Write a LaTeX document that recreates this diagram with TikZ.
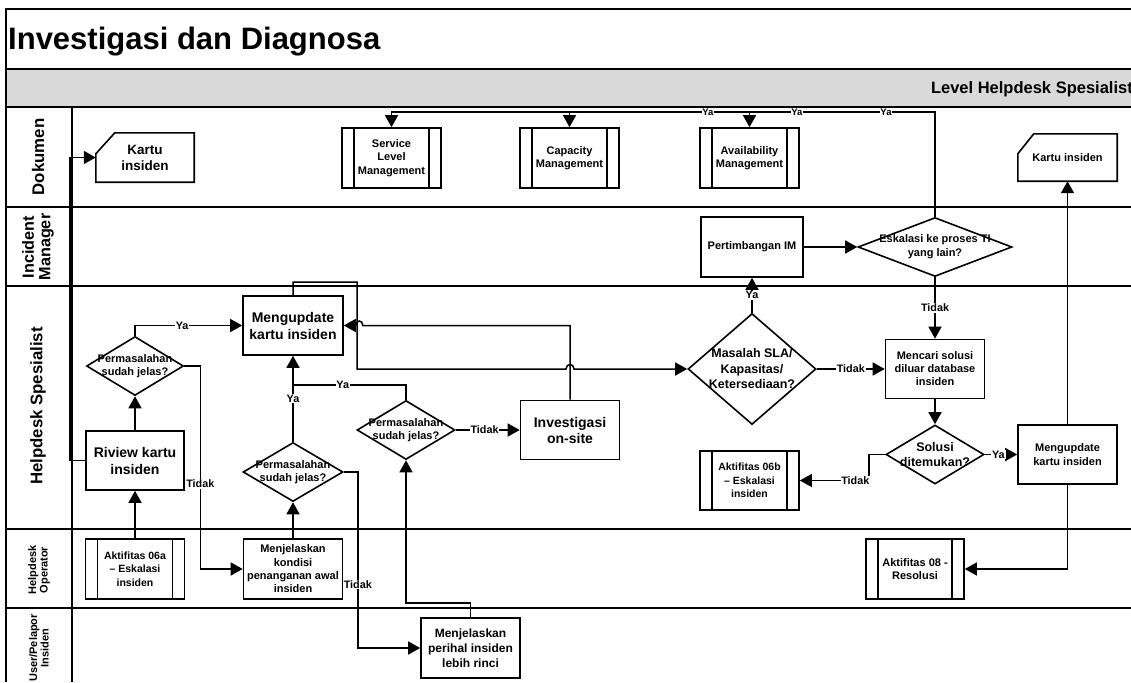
\documentclass[tikz,border=0pt]{standalone}
\usepackage{fontspec}
\setmainfont{Liberation Sans}
\usetikzlibrary{arrows.meta,shapes.geometric,calc}
\newcommand\myfs[2]{\fontsize{#1}{#2}\selectfont\bfseries}
\tikzset{
  laneline/.style={line width=2.2pt},
  box/.style={draw, line width=1.6pt, fill=white, inner sep=1pt, align=center,
    minimum width=99pt, minimum height=59pt, font=\myfs{11}{13.5}},
  predef/.style={box, path picture={
    \draw[line width=1.6pt]
      ([xshift=12pt]path picture bounding box.north west) -- ([xshift=12pt]path picture bounding box.south west)
      ([xshift=-12pt]path picture bounding box.north east) -- ([xshift=-12pt]path picture bounding box.south east);}},
  card/.style={inner sep=0pt, align=center},
  cardline/.style={line width=1.6pt},
  dec/.style={diamond, draw, line width=1.6pt, fill=white, inner sep=0pt,
    minimum width=98pt, minimum height=59pt},
  dtxt/.style={align=center, inner sep=0pt},
  conn/.style={line width=1.5pt, -{Triangle[length=12pt,width=13pt]}},
  link/.style={line width=1.5pt},
  lbl/.style={fill=white, inner sep=0.8pt, font=\myfs{10.8}{12}},
  toplbl/.style={fill=white, inner sep=0.6pt, font=\myfs{9.5}{10}},
  lanetxt/.style={rotate=90, align=center, inner sep=0pt},
}
\begin{document}
\begin{tikzpicture}[x=1pt,y=-1pt]
\useasboundingbox (0,0) rectangle (1131,682);

% ---- swimlane frame ----
\fill[black!15] (6,69) rectangle (1135,107);
\draw[laneline] (6,682) -- (6,9) -- (1135,9);
\foreach \yy in {69,107,207,286,529,608} \draw[laneline] (6,\yy) -- (1135,\yy);
\draw[laneline] (72,107) -- (72,682);

\node[anchor=base west, inner sep=0pt, font=\myfs{31}{36}] (title) at (8,50) {Investigasi dan Diagnosa};
\node[anchor=base east, inner sep=0pt, font=\myfs{16.5}{19}] (level) at (1133,94) {Level Helpdesk Spesialist};

% ---- lane names ----
\node[lanetxt, font=\myfs{16.8}{18}] (ln1) at (38,157) {Dokumen};
\node[lanetxt, font=\myfs{16.2}{16.5}] (ln2) at (38,247) {Incident\\Manager};
\node[lanetxt, font=\myfs{16.8}{18}] (ln3) at (38,406) {Helpdesk Spesialist};
\node[lanetxt, font=\myfs{11}{11.5}] (ln4) at (39,570) {Helpdesk\\Operator};
\node[lanetxt, font=\myfs{11}{11.5}] (ln5) at (39,648) {User/Pelapor\\Insiden};

% ---- Dokumen lane ----
\node[card, minimum width=98pt, minimum height=49pt, font=\myfs{13.5}{16}] (kartuA) at (145,157.5) {Kartu\\insiden};
\draw[cardline] ($(kartuA.north west)+(0,21)$) -- ($(kartuA.north west)+(19,0)$) -- (kartuA.north east) -- (kartuA.south east) -- (kartuA.south west) -- cycle;
\node[predef, minimum height=60pt] (slm) at (391.5,158) {Service\\Level\\Management};
\node[predef, minimum height=60pt] (cap) at (569.5,158) {Capacity\\Management};
\node[predef, minimum height=60pt] (avail) at (749.5,158) {Availability\\Management};
\node[card, minimum width=99pt, minimum height=47pt, font=\myfs{11}{13}] (kartuB) at (1067.5,157.5) {Kartu insiden};
\draw[cardline] ($(kartuB.north west)+(0,20)$) -- ($(kartuB.north west)+(16,0)$) -- (kartuB.north east) -- (kartuB.south east) -- (kartuB.south west) -- cycle;

% ---- Incident Manager lane ----
\node[box, minimum width=102pt, minimum height=60pt] (pim) at (752,247) {Pertimbangan IM};
\node[dec, minimum width=154pt] (esk) at (935,247) {};
\node[dtxt, font=\myfs{11}{14}] at (esk) {Eskalasi ke proses TI\\yang lain?};

% ---- Helpdesk Spesialist lane ----
\node[box, minimum width=100pt, font=\myfs{14}{17}] (upd1) at (293,325.5) {Mengupdate\\kartu insiden};
\node[dec, minimum width=97pt] (dq1) at (135,366) {};
\node[dtxt, font=\myfs{11}{13.5}] at (dq1) {Permasalahan\\sudah jelas?};
\node[box, minimum width=98pt, font=\myfs{14}{17}] (rev) at (135,460.5) {Riview kartu\\insiden};
\node[dec, minimum width=100pt] (dq2) at (293,472) {};
\node[dtxt, font=\myfs{11}{13.5}] at (dq2) {Permasalahan\\sudah jelas?};
\node[dec] (dq3) at (406,430) {};
\node[dtxt, font=\myfs{11}{13.5}] at (dq3) {Permasalahan\\sudah jelas?};
\node[box, font=\myfs{14}{16}] (inv) at (570,430) {Investigasi\\on-site};
\node[dec, minimum width=128pt, minimum height=111pt] (msla) at (752,369) {};
\node[dtxt, font=\myfs{12.5}{15.5}] at (msla) {Masalah SLA/\\Kapasitas/\\Ketersediaan?};
\node[box, font=\myfs{11}{13}] (cari) at (935,369) {Mencari solusi\\diluar database\\insiden};
\node[dec] (sol) at (935,454.5) {};
\node[dtxt, font=\myfs{12.5}{15}] at (sol) {Solusi\\ditemukan?};
\node[predef, font=\myfs{10.5}{13.5}] (akt6b) at (749.5,480.5) {Aktifitas 06b\\– Eskalasi\\insiden};
\node[box, font=\myfs{11}{14}] (upd2) at (1067.5,454.5) {Mengupdate\\kartu insiden};

% ---- Helpdesk Operator lane ----
\node[predef, minimum height=60pt, font=\myfs{10.5}{13.5}] (akt6a) at (135,569) {Aktifitas 06a\\– Eskalasi\\insiden};
\node[box, minimum height=60pt, font=\myfs{11}{13.3}] (jel) at (293,569) {Menjelaskan\\kondisi\\penanganan awal\\insiden};
\node[predef, minimum width=98pt, minimum height=60pt, font=\myfs{11}{13}] (akt8) at (915,569) {Aktifitas 08 -\\Resolusi};

% ---- User/Pelapor lane ----
\node[box, minimum height=60pt, font=\myfs{12}{15}] (rinci) at (470.5,648) {Menjelaskan\\perihal insiden\\lebih rinci};

% ---- connectors ----
\draw[conn] (rev.west) -- ++(-15,0) |- (kartuA.west);
\draw[conn] (akt6a.north) -- (rev.south);
\draw[conn] (rev.north) -- (dq1.south);
\draw[conn] (dq1.north) |- (upd1.west) node[lbl,pos=0.72]{Ya};
\draw[conn] (dq1.east) -- ++(16,0) |- (jel.west) node[lbl,pos=0.29]{Tidak};
\draw[conn] (jel.north) -- (dq2.south);
\draw[conn] (dq2.north) -- (upd1.south) node[lbl,pos=0.5]{Ya};
\draw[link] (dq3.north) |- ($(upd1.south)+(0,29)$) node[lbl,pos=0.78]{Ya};
\draw[conn] (dq2.east) -- ++(14,0) |- (rinci.west) node[lbl,pos=0.32]{Tidak};
\draw[conn] (rinci.north) -- ++(0,-14) -| (dq3.south);
\draw[conn] (dq3.east) -- (inv.west) node[lbl,pos=0.45]{Tidak};
\draw[conn] (inv.north) |- ($(upd1.east)+(19,0)$)
  .. controls +(0,-6) and +(0,-6) .. ($(upd1.east)+(12,0)$) -- (upd1.east);
\draw[conn] (upd1.north) |- (357,282) |- (566,369)
  .. controls +(0,-6) and +(0,-6) .. (574,369) -- (msla.west);
\draw[conn] (msla.north) -- (pim.south) node[lbl,pos=0.5]{Ya};
\draw[conn] (msla.east) -- (cari.west) node[lbl,pos=0.5]{Tidak};
\draw[conn] (pim.east) -- (esk.west);
\draw[conn] (esk.south) -- (cari.north) node[lbl,pos=0.5]{Tidak};
\draw[conn] (cari.south) -- (sol.north);
\draw[conn] (sol.east) -- (upd2.west) node[lbl,pos=0.42]{Ya};
\draw[conn] (sol.west) -- ++(-16,0) |- (akt6b.east) node[lbl,pos=0.6]{Tidak};
\draw[conn] (upd2.north) -- (kartuB.south);
\draw[conn] (upd2.south) |- (akt8.east);

% escalation to the other IT processes
\draw[conn] (esk.north) |- ($(slm.north)+(0,-15)$) -- (slm.north);
\draw[conn] (esk.north) |- ($(cap.north)+(0,-15)$) -- (cap.north);
\draw[conn] (esk.north) |- ($(avail.north)+(0,-15)$) -- (avail.north);
\path (esk.north) |- ($(slm.north)+(0,-15)$) node[toplbl,pos=0.709]{Ya};
\path (esk.north) |- ($(cap.north)+(0,-15)$) node[toplbl,pos=0.689]{Ya};
\path (esk.north) |- ($(avail.north)+(0,-15)$) node[toplbl,pos=0.632]{Ya};
\end{tikzpicture}
\end{document}
